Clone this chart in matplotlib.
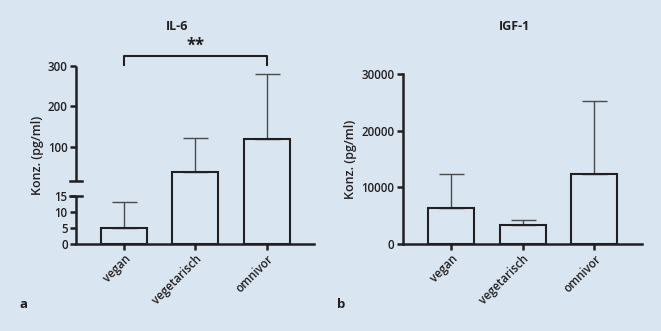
import numpy as np
import matplotlib
matplotlib.use("Agg")
import matplotlib.pyplot as plt

# ---- data ----
categories = ["vegan", "vegetarisch", "omnivor"]
il6_mean = [5, 38, 120]
il6_err_top = [13.2, 123, 280]
igf_mean = [6330, 3340, 12380]
igf_err_top = [12300, 4330, 25150]
il6_ticks = [0, 5, 10, 15, 100, 200, 300]
igf_ticks = [0, 10000, 20000, 30000]

plt.rcParams['font.family'] = ['Open Sans', 'DejaVu Sans']
BG = "#d9e6f1"
DARK = "#231f20"
W, H = 661, 331
fig = plt.figure(figsize=(W / 100, H / 100), dpi=100, facecolor=BG)

def ax_px(l, r, t, b):
    return fig.add_axes([l / W, (H - b) / H, (r - l) / W, (b - t) / H])

# broken-axis mapping for IL-6 (data -> pixel-like units)
LOW_TOP, GAP_LO, GAP_HI = 15.0, 16.0, 300.0
def fwd(y):
    y = np.asarray(y, float)
    return np.where(y <= LOW_TOP, y * 48.6 / 15,
                    np.where(y <= GAP_LO, 48.6 + (y - LOW_TOP) * 14.7,
                             63.3 + (y - GAP_LO) * 0.405))
def inv(p):
    p = np.asarray(p, float)
    return np.where(p <= 48.6, p * 15 / 48.6,
                    np.where(p <= 63.3, LOW_TOP + (p - 48.6) / 14.7,
                             GAP_LO + (p - 63.3) / 0.405))

x = np.arange(len(categories))
bw = 0.64
fs_tick = 8.3
lw_ax = 1.8

def style(ax):
    ax.set_facecolor("none")
    for s in ["top", "right"]:
        ax.spines[s].set_visible(False)
    for s in ["left", "bottom"]:
        ax.spines[s].set_linewidth(lw_ax)
        ax.spines[s].set_color(DARK)
    ax.tick_params(axis="both", width=lw_ax, length=4.5, color=DARK,
                   labelsize=fs_tick, labelcolor=DARK, pad=1.5)
    ax.set_xticks(x)
    ax.set_xticklabels(categories, rotation=45, ha="right", rotation_mode="anchor",
                       fontweight="semibold")
    ax.set_xlim(-0.67, 2.66)

def bars(ax, means, tops):
    ax.bar(x, means, width=bw, facecolor="none", edgecolor=DARK, linewidth=1.5, zorder=3)
    yerr = [np.zeros(len(means)), np.array(tops) - np.array(means)]
    ax.errorbar(x, means, yerr=yerr, fmt="none", ecolor="#4a4a4a", elinewidth=1.0,
                capsize=9, capthick=1.0, zorder=2)

# ---- panel a: IL-6 ----
axa = ax_px(76, 314, 66, 244.3)
style(axa)
axa.set_yscale("function", functions=(fwd, inv))
axa.set_ylim(0, 300)
bars(axa, il6_mean, il6_err_top)
axa.spines["left"].set_visible(False)
axa.set_yticks(il6_ticks)
axa.set_yticklabels([str(t) for t in il6_ticks], fontweight="semibold")
yt = axa.get_yaxis_transform()
axa.plot([0, 0], [0, LOW_TOP], transform=yt, color=DARK, lw=lw_ax, clip_on=False,
         solid_capstyle="butt", zorder=4)
axa.plot([0, 0], [GAP_LO, GAP_HI], transform=yt, color=DARK, lw=lw_ax, clip_on=False,
         solid_capstyle="butt", zorder=4)
for yv in (LOW_TOP, GAP_LO):
    axa.plot([-0.025, 0.025], [yv, yv], transform=yt, color=DARK, lw=lw_ax,
             clip_on=False, zorder=4)
# significance bracket
axa.plot([0, 0, 2, 2], [303, 325, 325, 303], color=DARK, lw=1.5, clip_on=False)
axa.text(1, 350, "**", ha="center", va="center", fontsize=12, fontweight="bold",
         color=DARK, clip_on=False)
axa.set_ylabel("Konz. (pg/ml)", fontsize=9, fontweight="semibold", color=DARK, labelpad=3)

# ---- panel b: IGF-1 ----
axb = ax_px(402.7, 641.7, 73.7, 244.3)
style(axb)
axb.set_ylim(0, 30000)
bars(axb, igf_mean, igf_err_top)
axb.set_yticks(igf_ticks)
axb.set_yticklabels([str(t) for t in igf_ticks], fontweight="semibold")
axb.set_ylabel("Konz. (pg/ml)", fontsize=9, fontweight="semibold", color=DARK, labelpad=3)

# titles and panel letters
fig.text(177 / W, 1 - 27 / H, "IL-6", ha="center", va="center", fontsize=9,
         fontweight="bold", color=DARK)
fig.text(515 / W, 1 - 27 / H, "IGF-1", ha="center", va="center", fontsize=9,
         fontweight="bold", color=DARK)
fig.text(24 / W, 1 - 304 / H, "a", ha="center", va="center", fontsize=9.5,
         fontweight="bold", color=DARK)
fig.text(341 / W, 1 - 304 / H, "b", ha="center", va="center", fontsize=9.5,
         fontweight="bold", color=DARK)

fig.savefig("out.png", dpi=100, facecolor=BG)
